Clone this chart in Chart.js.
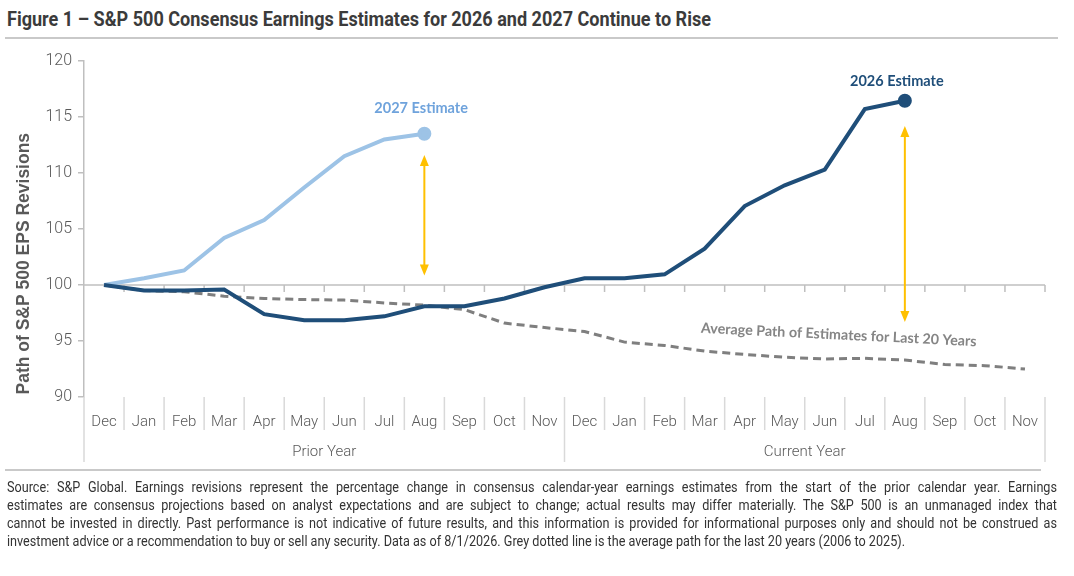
<!DOCTYPE html>
<html><head><meta charset="utf-8">
<script src="https://cdn.jsdelivr.net/npm/chart.js@4.4.1/dist/chart.umd.min.js"></script>
<style>
html,body{margin:0;padding:0;background:#fff;}
body{width:1074px;height:576px;position:relative;overflow:hidden;}
#title{position:absolute;left:7px;top:7px;font-weight:bold;font-size:20px;font-family:Roboto,sans-serif;color:#3b3b3b;white-space:nowrap;line-height:24px;transform-origin:0 0;}
.rule{position:absolute;height:0;border-top:2px solid #c9c9c9;}
#foot{position:absolute;left:7px;top:479px;font-size:14.5px;font-family:Roboto,sans-serif;color:#333;line-height:18px;transform-origin:0 0;}
#foot div{text-align:justify;text-align-last:justify;white-space:nowrap;}
#foot div.last{text-align:left;text-align-last:left;}
#c{position:absolute;left:0;top:0;}
</style></head>
<body>
<div id="title">Figure 1 – S&amp;P 500 Consensus Earnings Estimates for 2026 and 2027 Continue to Rise</div>
<div class="rule" style="left:5px;width:1053px;top:37px;"></div>
<canvas id="c" width="1074" height="576"></canvas>
<div class="rule" style="left:5px;width:1036px;top:469px;"></div>
<div id="foot">
<div>Source: S&amp;P Global. Earnings revisions represent the percentage change in consensus calendar-year earnings estimates from the start of the prior calendar year. Earnings</div>
<div>estimates are consensus projections based on analyst expectations and are subject to change; actual results may differ materially. The S&amp;P 500 is an unmanaged index that</div>
<div>cannot be invested in directly. Past performance is not indicative of future results, and this information is provided for informational purposes only and should not be construed as</div>
<div class="last">investment advice or a recommendation to buy or sell any security. Data as of 8/1/2026. Grey dotted line is the average path for the last 20 years (2006 to 2025).</div>
</div>
<script>
// ---- data ----
const months = ['Dec','Jan','Feb','Mar','Apr','May','Jun','Jul','Aug','Sep','Oct','Nov',
                'Dec','Jan','Feb','Mar','Apr','May','Jun','Jul','Aug','Sep','Oct','Nov'];
const groupLabels = ['Prior Year','Current Year'];
const est2027 = [100,100.6,101.3,104.2,105.8,108.7,111.5,113.0,113.5];
const est2026 = [100,99.5,99.5,99.6,97.4,96.85,96.85,97.2,98.1,98.1,98.8,99.8,
                 100.6,100.6,100.95,103.25,107.05,108.9,110.3,115.7,116.45];
const avgPath = [100,99.5,99.4,99.0,98.8,98.7,98.65,98.4,98.2,97.8,96.6,96.2,
                 95.85,94.9,94.6,94.1,93.8,93.55,93.4,93.45,93.3,92.9,92.8,92.5];
const yTicks = [90,95,100,105,110,115,120];
const seriesNames = ['2027 Estimate','2026 Estimate','Average Path of Estimates for Last 20 Years'];
// annotation anchors (category index, value)
const arrows = [{i:8, from:111.6, to:100.85},{i:20, from:114.2, to:96.7}];
const labels = [
  {text:'2027 Estimate', i:7.92, v:115.8, color:'#6FA3DC', rot:0, size:14.5},
  {text:'2026 Estimate', i:19.8, v:118.2, color:'#1F4E79', rot:0, size:14.5},
  {text:'Average Path of Estimates for Last 20 Years', i:18.35, v:95.55, color:'#858585', rot:2.8, size:14.3}
];
const yTitle = 'Path of S&P 500 EPS Revisions';

const C_DARK='#1F4E79', C_LIGHT='#9DC3E6', C_GREY='#7F7F7F', C_AX='#BFBFBF', C_TXT='#595959';
const TF="Roboto, sans-serif";

// fit title and footnote widths (condensed look)
(function(){
  const t=document.getElementById('title');
  const tw=t.getBoundingClientRect().width;
  t.style.transform='scaleX('+(704/tw)+')';
  const f=document.getElementById('foot');
  const lines=[...f.children];
  const ws=lines.map(d=>{d.style.display='inline-block';const w=d.getBoundingClientRect().width;d.style.display='';return w;});
  let s=898/ws[3];
  const maxW=Math.max(ws[0],ws[1],ws[2]);
  if(maxW*s>1049) s=1049/maxW;
  f.style.width=(1050/s)+'px';
  f.style.transform='scaleX('+s+')';
})();

function endPoint(arr){return ctx=>ctx.dataIndex===arr.length-1?5:0;}

const deco = {
  id:'deco',
  beforeDatasetsDraw(chart){
    const {ctx, chartArea:a, scales:{x,y}} = chart;
    const y100 = y.getPixelForValue(100);
    const w = (a.right-a.left)/months.length;
    ctx.save();
    ctx.strokeStyle=C_AX; ctx.lineWidth=1.5;
    ctx.beginPath(); ctx.moveTo(a.left,y100); ctx.lineTo(a.right,y100); ctx.stroke();
    ctx.beginPath();
    for(let i=1;i<=months.length;i++){const xx=a.left+i*w; ctx.moveTo(xx,y100); ctx.lineTo(xx,y100+7);}
    ctx.stroke();
    ctx.restore();
  },
  afterDraw(chart){
    const {ctx, chartArea:a, scales:{x,y}} = chart;
    const w = (a.right-a.left)/months.length;
    ctx.save();
    ctx.strokeStyle='#D9D9D9'; ctx.lineWidth=1.5;
    ctx.beginPath();
    for(let i=0;i<=months.length;i++){
      const xx=a.left+i*w; const long = (i%12===0);
      ctx.moveTo(xx,a.bottom); ctx.lineTo(xx,a.bottom+(long?65:33));
    }
    ctx.stroke();
    ctx.fillStyle=C_TXT; ctx.font='300 15px '+TF; ctx.textAlign='center'; ctx.textBaseline='middle';
    groupLabels.forEach((g,k)=>{
      const cx=(x.getPixelForValue(k*12)+x.getPixelForValue(k*12+11))/2;
      ctx.fillText(g,cx,a.bottom+55);
    });
    ctx.strokeStyle='#FFC000'; ctx.fillStyle='#FFC000'; ctx.lineWidth=2;
    arrows.forEach(ar=>{
      const xx=x.getPixelForValue(ar.i), y1=y.getPixelForValue(ar.from), y2=y.getPixelForValue(ar.to);
      ctx.beginPath(); ctx.moveTo(xx,y1+8); ctx.lineTo(xx,y2-8); ctx.stroke();
      ctx.beginPath(); ctx.moveTo(xx,y1); ctx.lineTo(xx-4.5,y1+11); ctx.lineTo(xx+4.5,y1+11); ctx.closePath(); ctx.fill();
      ctx.beginPath(); ctx.moveTo(xx,y2); ctx.lineTo(xx-4.5,y2-11); ctx.lineTo(xx+4.5,y2-11); ctx.closePath(); ctx.fill();
    });
    labels.forEach(l=>{
      const xx=x.getPixelForValue(0)+(x.getPixelForValue(1)-x.getPixelForValue(0))*l.i, yy=y.getPixelForValue(l.v);
      ctx.save(); ctx.translate(xx,yy); ctx.rotate(l.rot*Math.PI/180);
      ctx.font='bold '+l.size+'px Lato, sans-serif'; ctx.fillStyle=l.color; ctx.textAlign='center'; ctx.textBaseline='middle';
      ctx.fillText(l.text,0,0); ctx.restore();
    });
    ctx.save(); ctx.translate(24,y.getPixelForValue(101.9)); ctx.rotate(-Math.PI/2);
    ctx.font='bold 17.5px "Liberation Sans", Arial, sans-serif'; ctx.fillStyle=C_TXT; ctx.textAlign='center'; ctx.textBaseline='middle';
    ctx.fillText(yTitle,0,0); ctx.restore();
    ctx.restore();
  }
};

new Chart(document.getElementById('c'),{
  type:'line',
  data:{labels:months,datasets:[
    {label:seriesNames[0],data:est2027,borderColor:C_LIGHT,backgroundColor:C_LIGHT,borderWidth:4,pointRadius:endPoint(est2027),pointHoverRadius:0,tension:0,order:2},
    {label:seriesNames[1],data:est2026,borderColor:C_DARK,backgroundColor:C_DARK,borderWidth:4,pointRadius:endPoint(est2026),pointHoverRadius:0,tension:0,order:1},
    {label:seriesNames[2],data:avgPath,borderColor:C_GREY,backgroundColor:C_GREY,borderWidth:3,borderDash:[8,5],pointRadius:0,tension:0,order:3}
  ]},
  options:{
    responsive:false,animation:false,
    layout:{padding:{left:0,right:29,top:61,bottom:114}},
    plugins:{legend:{display:false},tooltip:{enabled:false}},
    scales:{
      x:{type:'category',offset:true,grid:{display:false,drawTicks:false},border:{display:false},
         ticks:{color:C_TXT,font:{family:TF,size:15,weight:'300'},padding:16,maxRotation:0,autoSkip:false},
         afterFit(s){s.height=65;}},
      y:{min:90,max:120,afterBuildTicks(s){s.ticks=yTicks.map(v=>({value:v}));},
         grid:{drawOnChartArea:false,tickLength:6,color:C_AX,lineWidth:1.5},
         border:{display:true,color:C_AX,width:1.5},
         ticks:{color:C_TXT,font:{family:TF,size:16,weight:'300'},padding:6},
         afterFit(s){s.width=84;}}
    }
  },
  plugins:[deco]
});
</script>
</body></html>
